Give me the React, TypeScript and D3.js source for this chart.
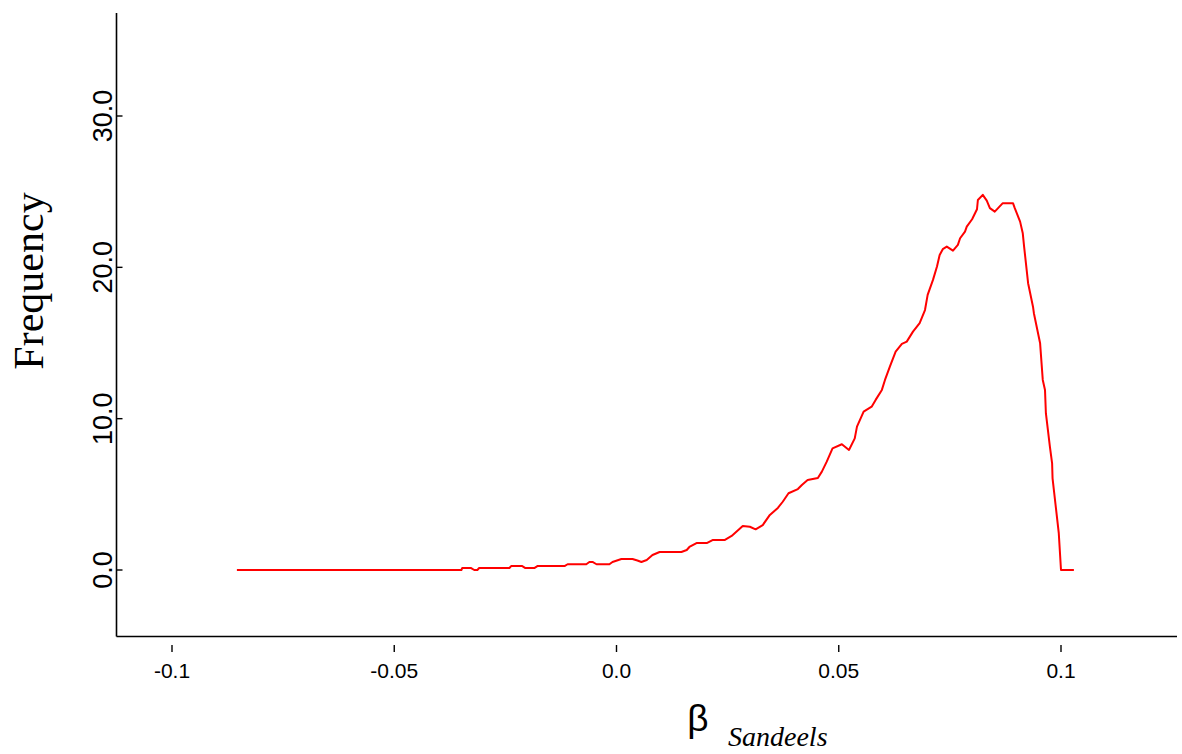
import React from "react";
import * as d3 from "d3";

const betaValues: number[] = [
  -0.0854, -0.0349, -0.0347, -0.0327, -0.032, -0.0313, -0.0309, -0.0241, -0.0237, -0.0212,
  -0.0205, -0.0185, -0.0178, -0.0117, -0.011, -0.0068, -0.0061, -0.0054, -0.0045, -0.0016,
  -0.0009, 0.0011, 0.0036, 0.0047, 0.0056, 0.0068, 0.0081, 0.0097, 0.0146, 0.0158,
  0.0164, 0.018, 0.0203, 0.0216, 0.0243, 0.0259, 0.0284, 0.03, 0.0313, 0.0329,
  0.0345, 0.0363, 0.0374, 0.0387, 0.0408, 0.0417, 0.043, 0.0453, 0.0462, 0.0473,
  0.0486, 0.0507, 0.0523, 0.0536, 0.0541, 0.0556, 0.0574, 0.0583, 0.0597, 0.0604,
  0.0615, 0.0628, 0.0642, 0.0653, 0.0667, 0.0682, 0.0694, 0.07, 0.0712, 0.0721,
  0.0727, 0.0734, 0.0743, 0.0757, 0.0768, 0.0773, 0.0784, 0.0788, 0.08, 0.0811,
  0.0813, 0.0824, 0.0833, 0.084, 0.0851, 0.0869, 0.0892, 0.0896, 0.0908, 0.0914,
  0.0917, 0.0926, 0.0937, 0.0939, 0.0953, 0.0959, 0.0964, 0.0966, 0.0975, 0.098,
  0.0981, 0.0995, 0.1, 0.1029,
];

const frequencyValues: number[] = [
  0, 0, 0.13, 0.13, 0, 0, 0.13, 0.13, 0.26, 0.26,
  0.13, 0.13, 0.26, 0.26, 0.38, 0.38, 0.53, 0.53, 0.38, 0.38,
  0.53, 0.73, 0.73, 0.63, 0.53, 0.66, 0.99, 1.19, 1.19, 1.32,
  1.52, 1.78, 1.78, 1.98, 1.98, 2.25, 2.91, 2.86, 2.69, 2.97,
  3.64, 4.1, 4.51, 5.07, 5.35, 5.62, 5.95, 6.08, 6.5, 7.16,
  8.04, 8.31, 7.93, 8.7, 9.47, 10.46, 10.79, 11.24, 11.9, 12.56,
  13.44, 14.43, 14.94, 15.09, 15.75, 16.31, 17.18, 18.18, 19.17, 20.05,
  20.82, 21.2, 21.37, 21.1, 21.48, 21.92, 22.36, 22.69, 23.18, 23.84,
  24.45, 24.79, 24.41, 23.91, 23.68, 24.24, 24.24, 23.91, 23.02, 22.25,
  21.37, 18.95, 17.4, 16.97, 14.98, 12.56, 11.9, 10.36, 8.15, 7.05,
  6.06, 2.43, 0, 0,
];

const xTicks: number[] = [-0.1, -0.05, 0.0, 0.05, 0.1];
const xTickLabels: string[] = ["-0.1", "-0.05", "0.0", "0.05", "0.1"];
const yTicks: number[] = [0, 10, 20, 30];
const yTickLabels: string[] = ["0.0", "10.0", "20.0", "30.0"];

export default function App() {
  const W = 1182;
  const H = 754;
  const left = 116.5;
  const right = 1177;
  const top = 13;
  const bottom = 636.5;

  const x = d3.scaleLinear().domain([-0.1, 0.1]).range([172, 1061]);
  const y = d3.scaleLinear().domain([0, 30]).range([570, 116]);

  const pts: [number, number][] = betaValues.map((b, i) => [b, frequencyValues[i]]);
  const line = d3
    .line<[number, number]>()
    .x((d) => x(d[0]))
    .y((d) => y(d[1]))
    .curve(d3.curveLinear);

  return (
    <svg
      width={W}
      height={H}
      style={{ position: "absolute", left: 0, top: 0, background: "#fff" }}
    >
      <line x1={left} y1={top} x2={left} y2={bottom} stroke="#000" strokeWidth={1.6} />
      <line x1={left} y1={bottom} x2={right} y2={bottom} stroke="#000" strokeWidth={1.6} />

      {yTicks.map((t, i) => (
        <g key={"y" + i}>
          <line x1={left} x2={left + 6} y1={y(t)} y2={y(t)} stroke="#000" strokeWidth={1.4} />
          <text
            transform={`translate(112,${y(t)}) rotate(-90)`}
            textAnchor="middle"
            fontFamily="'Liberation Sans', Arial, sans-serif"
            fontSize={27}
            fill="#000"
          >
            {yTickLabels[i]}
          </text>
        </g>
      ))}

      {xTicks.map((t, i) => (
        <g key={"x" + i}>
          <line x1={x(t)} x2={x(t)} y1={645} y2={652} stroke="#000" strokeWidth={1.4} />
          <text
            x={x(t)}
            y={678}
            textAnchor="middle"
            fontFamily="'Liberation Sans', Arial, sans-serif"
            fontSize={21}
            fill="#000"
          >
            {xTickLabels[i]}
          </text>
        </g>
      ))}

      <path d={line(pts) || ""} fill="none" stroke="#ff0000" strokeWidth={2} strokeLinejoin="round" />

      <text
        transform="translate(43,281) rotate(-90)"
        textAnchor="middle"
        fontFamily="'Liberation Serif', 'Times New Roman', serif"
        fontSize={42}
        fill="#000"
      >
        Frequency
      </text>
      <text
        x={698}
        y={731}
        textAnchor="middle"
        fontFamily="'Liberation Sans', Arial, sans-serif"
        fontSize={37}
        fill="#000"
      >
        β
      </text>
      <text
        x={728}
        y={746}
        fontFamily="'Liberation Serif', 'Times New Roman', serif"
        fontStyle="italic"
        fontSize={28}
        fill="#000"
      >
        Sandeels
      </text>
    </svg>
  );
}
